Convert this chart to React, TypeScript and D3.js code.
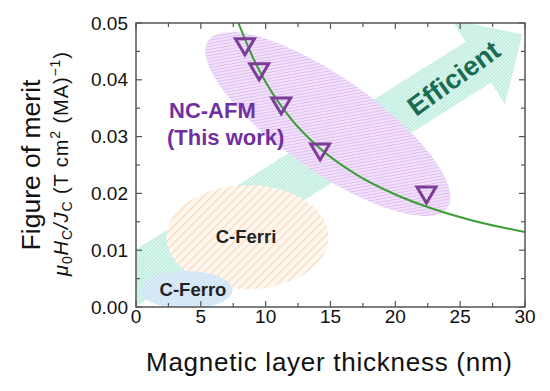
import React from "react";
import * as d3 from "d3";

// NC-AFM data points
const thickness = [8.4, 9.5, 11.2, 14.2, 22.4];
const merit = [0.0458, 0.0414, 0.0354, 0.0273, 0.0197];

// fitted curve
const fitX = [7.9, 9, 10, 12, 14, 17, 20, 23, 26, 30];
const fitY = [0.05, 0.044, 0.0396, 0.033, 0.0283, 0.0233, 0.0198, 0.0172, 0.0152, 0.0132];

const xTicks = [0, 5, 10, 15, 20, 25, 30];
const yTicks = [0, 0.01, 0.02, 0.03, 0.04, 0.05];

const W = 550;
const H = 391;
const m = { left: 136, right: 25, top: 23, bottom: 84 };

const font = "Arial, 'Liberation Sans', sans-serif";

const App = () => {
  const x = d3.scaleLinear().domain([0, 30]).range([m.left, W - m.right]);
  const y = d3.scaleLinear().domain([0, 0.05]).range([H - m.bottom, m.top]);

  const line = d3
    .line<number>()
    .x((d, i) => x(fitX[i]))
    .y(d => y(d))
    .curve(d3.curveMonotoneX);

  // teal "Efficient" arrow
  const tail = [x(-1), y(0.0037)];
  const tip = [x(29.8), y(0.048)];
  const dx = tip[0] - tail[0];
  const dy = tip[1] - tail[1];
  const len = Math.sqrt(dx * dx + dy * dy);
  const ux = dx / len;
  const uy = dy / len;
  const px = -uy;
  const py = ux;
  const headLen = 52;
  const shaft = 24;
  const wing = 50;
  const bx = tip[0] - ux * headLen;
  const by = tip[1] - uy * headLen;
  const arrowPts = [
    [tail[0] + px * shaft, tail[1] + py * shaft],
    [bx + px * shaft, by + py * shaft],
    [bx + px * wing, by + py * wing],
    tip,
    [bx - px * wing, by - py * wing],
    [bx - px * shaft, by - py * shaft],
    [tail[0] - px * shaft, tail[1] - py * shaft]
  ];

  const minorX = d3.range(0, 30.01, 2.5);
  const minorY = d3.range(0, 0.0501, 0.005);

  const tri = (cx, cy) => {
    const w = 9.5;
    const h = 16;
    return `M${cx - w},${cy - h / 2}L${cx + w},${cy - h / 2}L${cx},${cy + h / 2}Z`;
  };

  const hatch = (id, bg, fg, gap, sw) => (
    <pattern
      id={id}
      width={gap}
      height={gap}
      patternUnits="userSpaceOnUse"
      patternTransform="rotate(45)"
    >
      <rect width={gap} height={gap} fill={bg} />
      <line x1={0} y1={0} x2={0} y2={gap} stroke={fg} strokeWidth={sw} />
    </pattern>
  );

  return (
    <svg
      width={W}
      height={H}
      style={{ position: "absolute", left: 0, top: 0, background: "#fff" }}
      fontFamily={font}
    >
      <defs>
        {hatch("hTeal", "#dcf6ee", "#a2e3d2", 2.5, 1.2)}
        {hatch("hPurple", "#f2e2fa", "#d8aeef", 3, 1.4)}
        {hatch("hOrange", "#fff8f1", "#fbdcc2", 6, 3)}
        {hatch("hBlue", "#e0eef9", "#b5d6ee", 2.5, 1.2)}
        <clipPath id="plot">
          <rect x={m.left} y={m.top} width={W - m.left - m.right} height={H - m.top - m.bottom} />
        </clipPath>
      </defs>

      <g clipPath="url(#plot)">
        <polygon points={arrowPts.map(p => p.join(",")).join(" ")} fill="url(#hTeal)" />
        <ellipse cx={x(8.6)} cy={y(0.0123)} rx={81} ry={52} fill="url(#hOrange)" />
        <ellipse cx={x(3.9)} cy={y(0.003)} rx={46} ry={19} fill="url(#hBlue)" />
        <ellipse
          cx={x(14.8)}
          cy={y(0.0322)}
          rx={146}
          ry={47}
          transform={`rotate(35 ${x(14.8)} ${y(0.0322)})`}
          fill="url(#hPurple)"
        />
        <path d={line(fitY)} fill="none" stroke="#3a9e35" strokeWidth={2} />
      </g>

      {thickness.map((t, i) => (
        <path
          key={i}
          d={tri(x(t), y(merit[i]))}
          fill="none"
          stroke="#7d3c98"
          strokeWidth={3}
          strokeLinejoin="miter"
        />
      ))}

      <text
        transform="translate(455 80) rotate(-36)"
        textAnchor="middle"
        dominantBaseline="middle"
        fontSize={27}
        fontWeight="bold"
        fill="#1b6b52"
      >
        Efficient
      </text>

      <text x={169} y={118} fontSize={22} fontWeight="bold" fill="#7030a0">
        NC-AFM
      </text>
      <text x={167} y={145} fontSize={22} fontWeight="bold" fill="#7030a0">
        (This work)
      </text>
      <text x={246} y={243} textAnchor="middle" fontSize={18.5} fontWeight="bold" fill="#222">
        C-Ferri
      </text>
      <text x={193} y={296} textAnchor="middle" fontSize={18.5} fontWeight="bold" fill="#222">
        C-Ferro
      </text>

      {/* frame */}
      <rect
        x={m.left}
        y={m.top}
        width={W - m.left - m.right}
        height={H - m.top - m.bottom}
        fill="none"
        stroke="#555"
        strokeWidth={1.5}
      />

      {minorX.map((v, i) => {
        const l = v % 5 === 0 ? 6 : 4;
        return (
          <g key={"x" + i} stroke="#555" strokeWidth={1.2}>
            <line x1={x(v)} x2={x(v)} y1={y(0)} y2={y(0) - l} />
            <line x1={x(v)} x2={x(v)} y1={y(0.05)} y2={y(0.05) + l} />
          </g>
        );
      })}
      {minorY.map((v, i) => {
        const l = i % 2 === 0 ? 6 : 4;
        return (
          <g key={"y" + i} stroke="#555" strokeWidth={1.2}>
            <line x1={x(0)} x2={x(0) + l} y1={y(v)} y2={y(v)} />
            <line x1={x(30)} x2={x(30) - l} y1={y(v)} y2={y(v)} />
          </g>
        );
      })}

      {xTicks.map(v => (
        <text key={v} x={x(v)} y={323} textAnchor="middle" fontSize={19} fill="#111">
          {v}
        </text>
      ))}
      {yTicks.map(v => (
        <text key={v} x={128} y={y(v)} dy="0.35em" textAnchor="end" fontSize={19} fill="#111">
          {d3.format(".2f")(v)}
        </text>
      ))}

      <text
        x={329}
        y={371}
        textAnchor="middle"
        fontSize={26}
        textLength={366}
        lengthAdjust="spacing"
        fill="#111"
      >
        Magnetic layer thickness (nm)
      </text>
      <text
        transform="translate(40 165) rotate(-90)"
        textAnchor="middle"
        fontSize={26.5}
        fill="#111"
      >
        Figure of merit
      </text>
      <text
        transform="translate(68 164) rotate(-90)"
        textAnchor="middle"
        fontSize={20}
        fill="#111"
        textLength={224}
        lengthAdjust="spacing"
      >
        <tspan fontStyle="italic">μ</tspan>
        <tspan fontSize={14} dy={4}>0</tspan>
        <tspan fontStyle="italic" dy={-4}>H</tspan>
        <tspan fontSize={14} dy={4}>C</tspan>
        <tspan fontStyle="italic" dy={-4}>/J</tspan>
        <tspan fontSize={14} dy={4}>C</tspan>
        <tspan dy={-4}> (T cm</tspan>
        <tspan fontSize={14} dy={-8}>2</tspan>
        <tspan dy={8}> (MA)</tspan>
        <tspan fontSize={14} dy={-8}>−1</tspan>
        <tspan dy={8}>)</tspan>
      </text>
    </svg>
  );
};

export default App;
